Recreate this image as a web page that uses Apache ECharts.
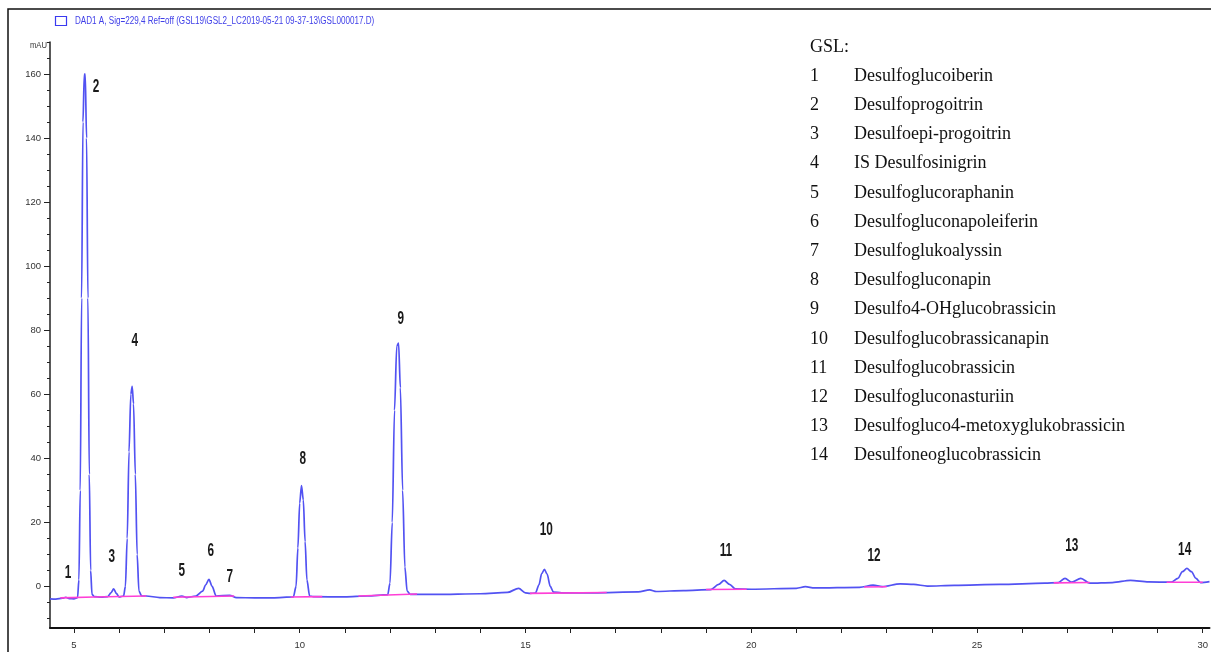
<!DOCTYPE html>
<html>
<head>
<meta charset="utf-8">
<script src="https://cdn.jsdelivr.net/npm/echarts@6/dist/echarts.min.js"></script>
<style>
  html,body{margin:0;padding:0;background:#fff;}
  #main{width:1211px;height:652px;}
</style>
</head>
<body>
<div id="main"></div>
<script>
// chromatogram trace (retention time in min, signal in mAU)
var rtTime = [4.47,4.6,4.75,4.82,4.9,5.0,5.08,5.11,5.14,5.17,5.2,5.23,5.25,5.28,5.31,5.34,5.37,5.4,5.45,
  5.6,5.75,5.82,5.88,5.94,6.0,6.1,6.14,6.18,6.22,6.26,6.29,6.32,6.36,6.4,6.44,6.5,6.6,6.9,7.2,7.39,7.5,7.7,
  7.85,7.92,7.99,8.06,8.15,8.45,8.6,9.0,9.4,9.86,9.92,9.96,10.0,10.04,10.08,10.12,10.16,10.22,10.3,11.0,11.5,
  11.95,12.0,12.05,12.1,12.15,12.19,12.23,12.28,12.33,12.38,12.45,13.0,14.0,14.6,14.85,15.0,15.1,15.22,15.3,
  15.36,15.42,15.48,15.55,15.62,15.8,16.5,17.5,17.75,17.9,18.5,19.1,19.28,19.4,19.52,19.65,20.0,21.0,21.2,
  21.4,22.4,22.7,22.9,23.3,23.6,23.9,24.5,25.5,26.5,26.8,26.95,27.1,27.3,27.5,28.0,28.4,28.8,29.3,29.45,
  29.55,29.65,29.75,29.85,29.95,30.15];
var rtSignal = [-3.9,-4.0,-3.7,-3.4,-3.8,-3.9,-3.5,2,30,90,145,160,160,140,90,35,5,-2.5,-3.2,
  -3.4,-3.2,-2,-0.8,-2.2,-3.3,-3.0,0,15,42,60,62.5,57,35,10,-1.5,-3.0,-3.0,-3.5,-3.6,-3.0,-3.5,-3.0,
  -1.5,0.5,2.2,0,-3,-2.8,-3.5,-3.6,-3.6,-3.3,0,12,26,31.5,27,14,2,-3.0,-3.2,-3.3,-3.0,
  -2.6,1,20,55,75,76,62,30,6,-1.5,-2.5,-2.5,-2.3,-1.9,-0.6,-2.0,-2.2,-2.1,0.5,
  4,5.3,3.8,0,-1.8,-2.0,-2.0,-1.7,-1.1,-1.6,-1.3,-1.0,0.6,1.9,0.6,-0.8,-0.9,-0.6,-0.1,
  -0.5,-0.3,0.4,-0.1,0.8,0.6,0.1,0.3,0.6,1.0,1.2,2.5,1.3,2.5,1.0,1.2,1.9,1.4,1.3,2.5,
  4.6,5.6,4.6,2.5,1.2,1.5];

// integration baselines (null = gap)
var baseTime = [4.7,5.45,null,5.45,6.6,null,7.2,8.55,null,9.8,10.5,null,11.3,12.6,null,15.1,16.8,null,
  19.0,19.9,null,22.5,23.0,null,26.7,27.5,null,29.2,30.0];
var baseSignal = [-3.6,-3.3,null,-3.3,-3.0,null,-3.4,-3.0,null,-3.3,-3.2,null,-3.0,-2.4,null,-2.2,-1.9,null,
  -1.0,-0.9,null,-0.2,-0.1,null,1.1,1.2,null,1.3,1.3];

// peak numbers and where they are written
var peakLabels = ['1','2','3','4','5','6','7','8','9','10','11','12','13','14'];
var labelTime = [4.87,5.49,5.84,6.35,7.39,8.03,8.45,10.07,12.24,15.46,19.44,22.72,27.1,29.6];
var labelSignal = [4.4,156,9.3,76.6,5,11.2,3.1,39.9,83.5,17.8,11.2,9.6,12.8,11.5];

var gslNames = ['Desulfoglucoiberin','Desulfoprogoitrin','Desulfoepi-progoitrin','IS Desulfosinigrin',
  'Desulfoglucoraphanin','Desulfogluconapoleiferin','Desulfoglukoalyssin','Desulfogluconapin',
  'Desulfo4-OHglucobrassicin','Desulfoglucobrassicanapin','Desulfoglucobrassicin','Desulfogluconasturiin',
  'Desulfogluco4-metoxyglukobrassicin','Desulfoneoglucobrassicin'];

var xTicks = [5,6,7,8,9,10,11,12,13,14,15,16,17,18,19,20,21,22,23,24,25,26,27,28,29,30];
var xLabels = [5,10,15,20,25,30];
var yLabels = [0,20,40,60,80,100,120,140,160];
var yMinor = [-10,-5,5,10,15,25,30,35,45,50,55,65,70,75,85,90,95,105,110,115,125,130,135,145,150,155,165,170];

var header = 'DAD1 A, Sig=229,4 Ref=off (GSL19\\GSL2_LC2019-05-21 09-37-13\\GSL000017.D)';
var sans = '"Liberation Sans", Arial, sans-serif';
var serif = '18px "Liberation Serif", serif';

var trace = rtTime.map(function(t,i){ return [t, rtSignal[i]]; });
var baseline = baseTime.map(function(t,i){ return t===null ? [null,null] : [t, baseSignal[i]]; });

var myChart = echarts.init(document.getElementById('main'));
var option = {
  animation:false,
  backgroundColor:'#fff',
  grid:{left:50, right:0, top:42, bottom:24},
  xAxis:{
    type:'value', min:4.47, max:30.15,
    axisLine:{onZero:false,lineStyle:{color:'#111',width:2}},
    axisTick:{customValues:xTicks,length:5,lineStyle:{color:'#222'}},
    axisLabel:{customValues:xLabels,color:'#333',fontSize:9.5,fontFamily:sans,margin:12},
    splitLine:{show:false}
  },
  yAxis:[{
    type:'value', min:-13, max:170,
    axisLine:{show:true,lineStyle:{color:'#222',width:1.5}},
    axisTick:{customValues:yLabels,length:6,lineStyle:{color:'#222'}},
    axisLabel:{customValues:yLabels,color:'#333',fontSize:9.5,fontFamily:sans,margin:9},
    splitLine:{show:false}
  },{
    type:'value', min:-13, max:170, position:'left',
    axisLine:{show:false},
    axisTick:{customValues:yMinor,length:3,lineStyle:{color:'#222'}},
    axisLabel:{show:false},
    splitLine:{show:false}
  }],
  series:[{
    name:header,
    type:'line',
    data:trace,
    smooth:0.3,
    smoothMonotone:'x',
    showSymbol:false,
    lineStyle:{color:'#5252f2',width:1.7},
    z:2
  },{
    name:'baseline',
    type:'line',
    data:baseline,
    showSymbol:false,
    connectNulls:false,
    lineStyle:{color:'#ff3fd6',width:1.6},
    z:3
  }]
};
myChart.setOption(option);

// texts: frame, header, legend list, peak numbers (placed through the chart's own scales)
var graphics = [{
  type:'rect', z:-1, silent:true,
  shape:{x:8,y:9,width:1300,height:700},
  style:{fill:'none',stroke:'#111',lineWidth:1.5}
},{
  type:'rect', silent:true,
  shape:{x:55.5,y:16.5,width:11,height:9},
  style:{fill:'#fff',stroke:'#3a3af0',lineWidth:1.2}
},{
  type:'text', x:75, y:21, scaleX:0.81,
  style:{text:header,font:'10px '+sans,fill:'#4040e8',verticalAlign:'middle'}
},{
  type:'text', x:30, y:46, scaleX:0.85,
  style:{text:'mAU',font:'9px '+sans,fill:'#333',verticalAlign:'middle'}
},{
  type:'text', x:810, y:47,
  style:{text:'GSL:',font:serif,fill:'#111',verticalAlign:'middle'}
}];
gslNames.forEach(function(n,i){
  var y = 76 + i*29.2;
  graphics.push({type:'text', x:810, y:y,
    style:{text:String(i+1),font:serif,fill:'#111',verticalAlign:'middle'}});
  graphics.push({type:'text', x:854, y:y,
    style:{text:n,font:serif,fill:'#111',verticalAlign:'middle'}});
});
peakLabels.forEach(function(lab,i){
  var p = myChart.convertToPixel({gridIndex:0}, [labelTime[i], labelSignal[i]]);
  graphics.push({type:'text', x:p[0], y:p[1], scaleX:0.62, z:5,
    style:{text:lab,font:'bold 19px '+sans,fill:'#1a1a1a',align:'center',verticalAlign:'middle'}});
});
myChart.setOption({graphic:graphics});
</script>
</body>
</html>
